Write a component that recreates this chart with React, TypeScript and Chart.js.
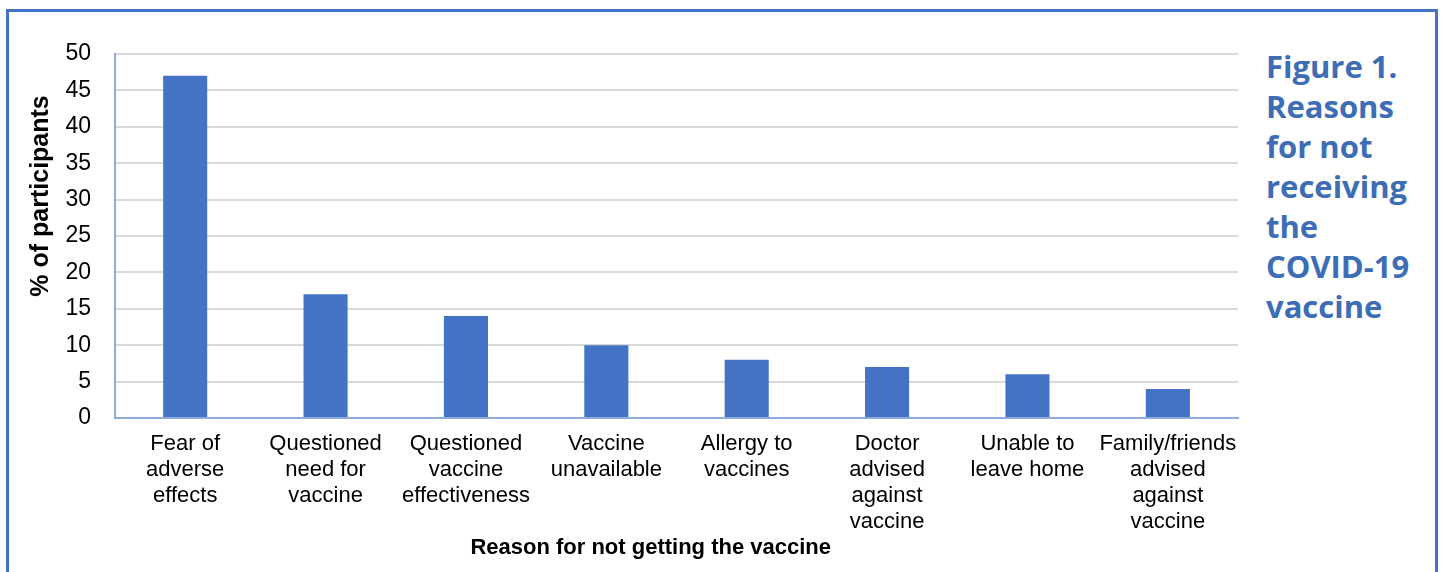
import React, { useEffect, useRef } from "react";
import { Chart, registerables } from "chart.js";

Chart.register(...registerables);

const categories: string[][] = [
  ["Fear of", "adverse", "effects"],
  ["Questioned", "need for", "vaccine"],
  ["Questioned", "vaccine", "effectiveness"],
  ["Vaccine", "unavailable"],
  ["Allergy to", "vaccines"],
  ["Doctor", "advised", "against", "vaccine"],
  ["Unable to", "leave home"],
  ["Family/friends", "advised", "against", "vaccine"],
];
const percentValues: number[] = [47, 17, 14, 10, 8, 7, 6, 4];
const yTicks: number[] = [0, 5, 10, 15, 20, 25, 30, 35, 40, 45, 50];
const yTitle = "% of participants";
const xTitle = "Reason for not getting the vaccine";
const figureTitle: string[] = ["Figure 1.", "Reasons", "for not", "receiving", "the", "COVID-19", "vaccine"];

const BAR = "#4472C4";
const AXIS = "#8FAADC";
const FONT = "'Liberation Sans', Arial, sans-serif";

const titlesPlugin = {
  id: "titlesPlugin",
  afterDraw(chart: any) {
    const { ctx, chartArea } = chart;
    ctx.save();
    ctx.fillStyle = "#000";
    ctx.textAlign = "center";
    ctx.textBaseline = "middle";
    ctx.font = "bold 25px " + FONT;
    ctx.save();
    ctx.translate(41, chartArea.top + (chartArea.bottom - chartArea.top) * 0.39);
    ctx.rotate(-Math.PI / 2);
    ctx.fillText(yTitle, 0, 0);
    ctx.restore();
    ctx.font = "bold 22px " + FONT;
    ctx.fillText(xTitle, chartArea.left + (chartArea.right - chartArea.left) * 0.477, 548);
    ctx.restore();
  },
};

export default function App() {
  const ref = useRef<HTMLCanvasElement | null>(null);
  useEffect(() => {
    if (!ref.current) return;
    const chart = new Chart(ref.current, {
      type: "bar",
      data: {
        labels: categories,
        datasets: [
          {
            data: percentValues,
            backgroundColor: BAR,
            borderWidth: 0,
            barPercentage: 0.314,
            categoryPercentage: 1,
          },
        ],
      },
      plugins: [titlesPlugin],
      options: {
        animation: false,
        responsive: false,
        maintainAspectRatio: false,
        layout: { padding: { top: 54, right: 11, left: 0, bottom: 0 } },
        plugins: { legend: { display: false }, tooltip: { enabled: false } },
        scales: {
          x: {
            grid: { display: false, drawTicks: false },
            border: { display: true, color: AXIS, width: 2 },
            ticks: {
              color: "#000",
              font: { family: FONT, size: 22, lineHeight: 26 / 22 },
              padding: 13,
              maxRotation: 0,
              autoSkip: false,
            },
            afterFit(scale: any) {
              scale.height = 572 - 418;
            },
          },
          y: {
            min: 0,
            max: 50,
            afterBuildTicks(scale: any) {
              scale.ticks = yTicks.map((v) => ({ value: v }));
            },
            grid: { color: "#D9D9D9", lineWidth: 2, drawTicks: false },
            border: { display: true, color: AXIS, width: 2 },
            ticks: {
              color: "#000",
              font: { family: FONT, size: 23 },
              padding: 24,
            },
            afterFit(scale: any) {
              scale.width = 115;
            },
          },
        },
      },
    });
    return () => chart.destroy();
  }, []);

  return (
    <div style={{ position: "fixed", left: 0, top: 0, width: 1447, height: 572, background: "#fff", overflow: "hidden" }}>
      <div
        style={{
          position: "absolute",
          left: 6,
          top: 9,
          width: 1432,
          height: 600,
          borderTop: "3px solid #4472C4",
          borderLeft: "3px solid #4472C4",
          borderRight: "3px solid #4472C4",
          boxSizing: "border-box",
        }}
      />
      <canvas ref={ref} width={1250} height={572} style={{ position: "absolute", left: 0, top: 0 }} />
      <div
        style={{
          position: "absolute",
          left: 1266,
          top: 46,
          color: "#3D6DB5",
          fontFamily: "'Open Sans', Lato, sans-serif",
          fontWeight: 700,
          fontSize: 31,
          lineHeight: "40px",
        }}
      >
        {figureTitle.map((t, i) => (
          <div key={i}>{t}</div>
        ))}
      </div>
    </div>
  );
}
